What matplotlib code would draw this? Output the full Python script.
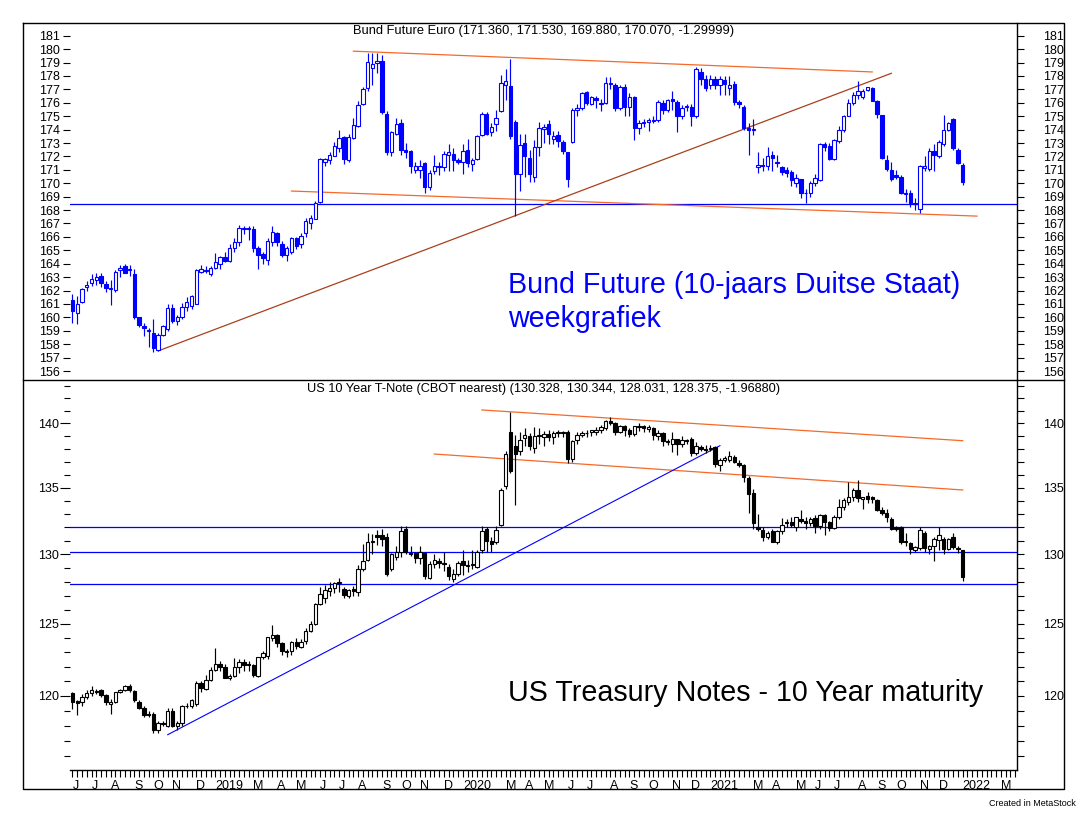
"""Weekly candlestick charts: Bund future and US 10y T-Note (MetaStock style)."""

import numpy as np
import pandas as pd
from matplotlib import pyplot as plt
from matplotlib.ticker import FixedLocator, NullFormatter, FixedFormatter

plt.rcParams["font.family"] = ["Liberation Sans", "DejaVu Sans"]

# weekly bars, first bar = week ending 8 June 2018, last bar = 7 Jan 2022
first_week = "2018-06-08"
n_slots = 199  # bar slots incl. empty weeks up to March 2022

bund_open = [
    161.3, 160.3, 161.15, 162.3, 162.6, 162.8, 163.05, 162.5, 162.1, 162.05,
    163.5, 163.8, 163.6, 163.2, 160.0, 159.35, 159.05, 158.8, 157.6, 158.7,
    159.1, 160.7, 159.7, 160.0, 160.8, 160.85, 161.0, 163.4, 163.5, 163.2,
    163.7, 164.0, 164.5, 164.2, 165.2, 165.6, 166.6, 166.7, 166.6, 165.2,
    164.7, 164.3, 165.6, 166.3, 165.45, 164.65, 164.9, 165.9, 165.5, 166.3,
    167.0, 167.35, 168.6, 171.6, 171.7, 172.05, 172.6, 173.45, 171.75, 173.4,
    174.3, 175.9, 177.1, 178.6, 179.0, 179.15, 175.2, 172.3, 173.7, 174.5,
    172.5, 172.4, 171.0, 171.0, 171.5, 169.75, 170.95, 171.3, 171.2, 172.1,
    172.2, 171.7, 171.6, 172.5, 171.45, 171.8, 173.6, 175.15, 173.8, 174.4,
    175.4, 177.3, 177.25, 174.6, 170.7, 173.0, 171.9, 170.5, 172.7, 174.05,
    174.4, 173.3, 173.6, 173.05, 172.35, 173.1, 175.5, 175.6, 176.8, 175.9,
    176.35, 176.0, 176.0, 177.4, 177.3, 175.6, 177.2, 175.65, 176.4, 174.1,
    174.5, 174.55, 174.65, 174.7, 176.0, 175.5, 176.25, 176.05, 175.0, 175.65,
    175.7, 175.0, 178.3, 177.8, 177.35, 177.75, 177.35, 177.7, 177.1, 177.4,
    176.05, 175.7, 174.1, 174.0, 171.2, 171.35, 171.3, 172.1, 171.6, 171.2,
    171.0, 170.85, 170.0, 170.3, 169.25, 169.25, 170.0, 170.25, 172.9, 172.75,
    171.8, 173.15, 173.95, 175.05, 175.95, 176.6, 176.45, 176.95, 177.1, 176.15,
    175.1, 171.75, 171.0, 170.6, 170.5, 169.2, 169.3, 168.5, 168.1, 171.15,
    171.1, 172.4, 172.0, 172.9, 174.0, 174.8, 172.5, 171.36,
]
bund_high = [
    161.75, 161.6, 162.2, 162.7, 163.2, 163.3, 163.3, 162.7, 162.8, 163.5,
    163.9, 163.95, 163.9, 163.6, 160.05, 159.6, 159.2, 159.9, 158.8, 159.45,
    161.0, 161.0, 160.2, 161.05, 161.5, 161.7, 163.6, 163.9, 163.8, 163.8,
    164.8, 164.6, 164.9, 165.5, 165.9, 166.9, 166.85, 166.85, 166.8, 165.3,
    164.9, 165.9, 166.8, 166.4, 165.7, 165.35, 166.0, 166.0, 166.3, 167.4,
    167.6, 168.65, 171.9, 171.9, 172.3, 173.1, 174.0, 173.5, 173.7, 174.9,
    176.1, 177.2, 179.7, 179.7, 179.7, 179.6, 175.4, 173.9, 174.9, 174.8,
    173.0, 172.5, 171.6, 171.7, 171.6, 171.0, 172.1, 171.6, 172.4, 172.9,
    172.6, 171.9, 172.9, 173.3, 171.9, 173.6, 175.3, 175.3, 174.5, 175.5,
    178.1, 178.5, 179.3, 174.7, 173.7, 173.7, 172.5, 173.2, 174.6, 174.4,
    174.7, 173.9, 173.9, 173.2, 172.35, 175.6, 175.9, 176.8, 176.9, 176.5,
    176.5, 176.3, 177.9, 177.9, 177.5, 177.3, 177.4, 176.7, 176.5, 174.7,
    174.8, 174.9, 175.0, 176.2, 176.2, 176.3, 176.9, 176.2, 175.8, 175.9,
    175.9, 178.7, 178.6, 178.1, 178.1, 178.0, 178.0, 178.0, 178.0, 177.6,
    176.2, 175.8, 174.5, 174.8, 172.3, 171.9, 172.7, 172.4, 172.1, 171.3,
    171.2, 171.0, 170.7, 170.3, 169.6, 170.2, 170.7, 173.0, 173.1, 173.0,
    173.3, 174.3, 175.1, 176.3, 176.8, 177.6, 177.0, 177.2, 177.2, 176.2,
    175.1, 172.1, 171.6, 171.0, 170.6, 169.6, 169.5, 168.9, 171.35, 172.0,
    172.6, 172.9, 173.2, 175.1, 174.6, 174.9, 172.6, 171.53,
]
bund_low = [
    159.6, 159.5, 161.1, 162.0, 162.35, 162.4, 162.3, 161.9, 160.9, 161.9,
    163.0, 163.3, 163.1, 159.9, 159.3, 158.6, 157.8, 157.4, 157.5, 158.6,
    159.0, 159.6, 159.4, 159.9, 160.5, 160.6, 161.0, 163.3, 163.3, 163.1,
    163.6, 163.6, 164.1, 164.1, 164.9, 165.3, 166.2, 165.8, 164.9, 163.6,
    164.0, 163.9, 165.3, 165.3, 164.5, 164.2, 164.7, 165.1, 165.2, 166.0,
    166.6, 167.3, 168.5, 171.3, 171.4, 172.0, 172.3, 171.4, 171.6, 173.3,
    174.2, 175.8, 176.9, 177.3, 178.2, 175.2, 172.1, 172.0, 173.6, 172.1,
    171.9, 170.8, 170.8, 170.4, 169.3, 169.5, 170.7, 170.6, 170.9, 170.9,
    170.9, 171.4, 170.7, 171.2, 170.9, 171.7, 173.5, 173.6, 173.5, 173.9,
    175.3, 176.2, 173.3, 167.55, 169.4, 170.5, 170.1, 170.1, 172.0, 173.0,
    172.9, 172.9, 172.7, 172.2, 169.75, 173.0, 175.0, 175.5, 175.8, 175.8,
    175.6, 175.4, 175.9, 177.0, 175.4, 175.5, 175.0, 175.0, 173.2, 173.7,
    174.2, 173.9, 174.5, 174.6, 175.2, 175.3, 175.5, 173.8, 174.8, 175.4,
    174.3, 174.9, 177.3, 176.9, 177.0, 177.0, 176.6, 176.6, 176.6, 175.8,
    175.6, 174.0, 172.1, 173.6, 170.8, 170.9, 171.0, 170.9, 171.2, 170.6,
    170.5, 169.8, 169.7, 168.9, 168.5, 169.0, 169.8, 170.2, 172.4, 171.7,
    171.7, 173.0, 173.8, 175.0, 175.8, 176.3, 176.3, 176.9, 176.1, 174.9,
    171.8, 170.9, 170.2, 170.3, 169.2, 168.6, 168.2, 168.0, 167.8, 170.9,
    170.9, 170.9, 171.9, 172.8, 173.9, 172.5, 171.4, 169.88,
]
bund_close = [
    160.45, 161.0, 162.1, 162.45, 162.85, 163.0, 162.6, 162.2, 162.2, 163.35,
    163.65, 163.3, 163.5, 160.05, 159.4, 159.2, 159.0, 157.7, 158.7, 159.35,
    160.7, 159.7, 160.05, 160.8, 161.15, 161.6, 163.5, 163.6, 163.45, 163.65,
    164.1, 164.5, 164.2, 165.2, 165.6, 166.7, 166.7, 166.6, 165.15, 164.65,
    164.4, 165.7, 166.35, 165.6, 164.65, 165.15, 165.9, 165.3, 166.1, 167.2,
    167.4, 168.55, 171.8, 171.8, 172.1, 172.8, 173.35, 171.8, 173.45, 174.35,
    175.85, 177.0, 179.05, 178.9, 179.15, 175.35, 172.3, 173.8, 174.4, 172.5,
    172.3, 171.3, 171.25, 171.3, 169.75, 170.8, 171.3, 171.2, 172.2, 172.3,
    171.7, 171.6, 172.4, 171.5, 171.7, 173.5, 175.2, 173.7, 174.2, 174.9,
    177.45, 177.6, 173.5, 170.7, 172.85, 172.0, 170.7, 172.7, 174.1, 174.2,
    173.7, 173.5, 173.15, 172.4, 170.35, 175.5, 175.6, 176.75, 176.0, 176.4,
    176.2, 175.9, 177.45, 177.5, 175.6, 177.2, 175.65, 176.45, 174.1, 174.5,
    174.6, 174.7, 174.75, 176.05, 175.5, 176.2, 176.1, 175.0, 175.6, 175.75,
    175.05, 178.55, 177.8, 177.1, 177.8, 177.35, 177.75, 177.4, 177.3, 176.05,
    175.9, 174.1, 174.0, 174.05, 171.35, 171.25, 172.0, 171.85, 171.5, 170.85,
    170.8, 170.25, 170.4, 169.3, 169.3, 170.0, 170.4, 172.9, 172.7, 171.8,
    173.25, 173.95, 175.0, 175.95, 176.6, 176.85, 176.85, 177.15, 176.15, 175.15,
    171.85, 171.1, 170.3, 170.5, 169.3, 169.3, 168.55, 168.45, 171.25, 171.25,
    172.4, 172.1, 173.05, 174.0, 174.5, 172.65, 171.5, 170.07,
]

tnote_open = [
    120.2, 119.65, 119.6, 119.9, 120.2, 120.3, 120.4, 120.05, 119.45, 119.6,
    120.3, 120.4, 120.7, 120.35, 119.6, 119.2, 118.75, 118.75, 117.7, 118.2,
    118.0, 119.0, 118.0, 118.15, 119.3, 119.35, 119.45, 120.85, 120.5, 121.1,
    121.8, 122.2, 122.0, 121.2, 121.35, 122.0, 122.35, 122.2, 122.1, 121.35,
    122.65, 122.75, 124.0, 124.2, 123.65, 123.1, 123.1, 123.7, 123.4, 123.8,
    124.5, 125.0, 126.4, 126.8, 127.35, 127.55, 127.9, 127.5, 127.0, 127.5,
    127.3, 128.95, 129.6, 130.9, 131.4, 131.4, 131.3, 128.9, 129.8, 130.2,
    131.9, 130.1, 130.1, 129.7, 130.1, 128.3, 129.3, 129.5, 129.4, 129.1,
    128.2, 128.6, 129.55, 129.15, 129.2, 129.1, 130.3, 131.9, 131.0, 130.9,
    132.2, 135.1, 139.3, 138.2, 137.85, 138.85, 139.0, 138.05, 139.0, 138.9,
    139.15, 138.95, 139.2, 139.25, 139.35, 137.2, 138.7, 139.1, 139.25, 139.3,
    139.35, 139.5, 139.6, 140.2, 140.0, 139.3, 139.75, 139.45, 139.15, 139.7,
    139.75, 139.55, 139.6, 139.0, 139.2, 138.6, 138.4, 138.75, 138.35, 138.7,
    138.8, 137.7, 138.1, 137.95, 137.95, 138.1, 136.75, 137.1, 137.15, 137.35,
    136.9, 136.75, 135.7, 134.6, 132.05, 131.8, 131.25, 131.7, 130.9, 131.7,
    132.3, 132.4, 132.0, 132.6, 132.5, 132.3, 132.7, 132.1, 132.9, 132.4,
    131.95, 132.75, 133.5, 133.9, 134.3, 134.8, 134.1, 134.35, 134.3, 134.05,
    133.3, 133.1, 132.6, 132.0, 132.0, 131.0, 130.85, 130.3, 130.5, 131.6,
    130.4, 130.6, 131.05, 131.15, 130.4, 131.3, 130.5, 130.328,
]
tnote_high = [
    120.25, 119.7, 120.1, 120.4, 120.7, 120.5, 120.5, 120.1, 119.8, 120.3,
    120.5, 120.75, 120.8, 120.4, 119.7, 119.3, 119.0, 118.9, 118.3, 118.3,
    119.2, 119.2, 118.3, 119.4, 119.5, 119.8, 121.0, 121.0, 121.4, 122.0,
    123.3, 122.4, 122.2, 121.5, 122.6, 122.5, 122.5, 122.4, 122.2, 122.7,
    123.1, 124.1, 124.9, 124.3, 123.7, 123.2, 123.8, 124.0, 123.9, 124.7,
    125.2, 126.5, 127.6, 127.8, 128.0, 128.0, 128.3, 127.6, 127.5, 127.7,
    129.2, 130.8, 131.6, 131.5, 131.8, 131.9, 131.6, 130.1, 130.6, 132.1,
    132.1, 130.6, 130.2, 130.6, 130.2, 129.5, 130.0, 129.7, 130.2, 129.3,
    128.9, 129.5, 130.3, 129.6, 130.3, 130.3, 132.1, 132.05, 131.3, 132.1,
    135.0, 137.8, 140.9, 139.1, 139.3, 139.6, 139.2, 139.7, 139.6, 139.4,
    139.5, 139.4, 139.5, 139.4, 139.5, 138.7, 139.3, 139.4, 139.5, 139.5,
    139.7, 139.9, 140.3, 140.5, 140.1, 139.9, 139.9, 139.6, 139.8, 140.0,
    139.9, 139.9, 139.7, 139.5, 139.3, 138.8, 139.3, 138.8, 139.0, 138.8,
    138.9, 138.5, 138.3, 138.3, 138.3, 138.2, 137.3, 137.4, 137.8, 137.5,
    137.1, 136.8, 135.9, 134.9, 133.0, 132.0, 131.7, 131.9, 131.8, 132.7,
    132.6, 132.8, 132.8, 133.3, 132.8, 132.8, 132.9, 133.0, 133.0, 132.5,
    132.9, 134.1, 134.2, 135.4, 135.0, 135.6, 134.3, 134.7, 134.4, 134.1,
    133.5, 133.4, 132.8, 132.1, 132.1, 131.6, 130.9, 130.6, 132.0, 131.7,
    130.7, 131.3, 132.0, 131.3, 131.2, 131.6, 130.6, 130.344,
]
tnote_low = [
    119.1, 118.7, 119.3, 119.8, 120.0, 120.1, 119.95, 119.4, 118.8, 119.5,
    120.2, 120.35, 120.3, 119.6, 119.1, 118.6, 118.6, 117.5, 117.5, 118.0,
    117.9, 117.9, 117.7, 118.0, 119.2, 119.2, 119.3, 120.3, 120.4, 121.0,
    121.7, 121.7, 121.2, 121.1, 121.3, 121.6, 121.7, 121.7, 121.3, 121.3,
    122.5, 122.5, 123.8, 123.4, 122.8, 122.7, 122.8, 123.2, 123.3, 123.6,
    124.4, 124.9, 126.3, 126.5, 127.0, 127.2, 127.3, 126.8, 126.8, 127.0,
    127.0, 128.8, 129.5, 130.0, 130.7, 130.6, 128.4, 128.8, 129.6, 129.8,
    130.0, 129.9, 129.4, 129.3, 128.2, 128.2, 129.0, 129.0, 128.8, 128.1,
    127.95, 128.4, 128.5, 128.7, 128.9, 129.0, 130.1, 130.2, 130.2, 130.8,
    132.1, 134.9, 136.1, 133.7, 137.5, 138.2, 137.9, 137.7, 138.4, 138.2,
    138.6, 138.4, 138.9, 138.9, 136.9, 137.0, 138.4, 138.9, 138.9, 139.0,
    139.1, 139.2, 139.5, 139.9, 139.1, 139.2, 139.0, 138.9, 139.0, 139.4,
    139.3, 139.3, 138.7, 138.7, 138.2, 138.3, 137.75, 137.5, 138.1, 138.4,
    137.4, 137.5, 137.8, 137.7, 137.8, 136.6, 136.3, 137.0, 137.0, 136.9,
    136.6, 135.4, 133.1, 131.9, 131.7, 131.0, 131.1, 130.9, 130.8, 131.5,
    132.0, 132.0, 131.7, 132.3, 131.9, 132.1, 131.6, 131.9, 131.4, 131.7,
    131.9, 132.6, 133.3, 133.7, 134.0, 133.9, 133.4, 133.8, 133.8, 133.2,
    132.9, 132.4, 131.8, 131.7, 130.8, 130.6, 130.0, 130.2, 130.3, 130.2,
    130.0, 129.5, 130.3, 130.0, 130.3, 130.4, 130.1, 128.031,
]
tnote_close = [
    119.6, 119.55, 119.9, 120.2, 120.4, 120.35, 120.05, 119.6, 119.6, 120.25,
    120.4, 120.7, 120.4, 119.75, 119.2, 118.7, 118.7, 117.7, 118.2, 118.1,
    119.0, 118.0, 118.2, 119.3, 119.35, 119.75, 120.85, 120.55, 121.1, 121.8,
    122.2, 122.0, 121.25, 121.35, 122.0, 122.35, 122.15, 122.1, 121.45, 122.65,
    122.95, 124.05, 124.2, 123.65, 123.1, 123.05, 123.7, 123.45, 123.75, 124.5,
    125.0, 126.4, 127.15, 127.4, 127.55, 127.9, 127.95, 127.05, 127.4, 127.35,
    128.95, 129.55, 130.9, 131.0, 131.3, 131.1, 128.55, 130.0, 130.2, 131.7,
    130.2, 130.05, 129.75, 130.2, 128.4, 129.3, 129.6, 129.4, 129.3, 128.4,
    128.6, 129.4, 129.2, 129.2, 129.3, 130.2, 131.7, 131.0, 130.8, 131.8,
    134.8, 137.6, 136.3, 137.6, 138.7, 139.05, 138.2, 139.0, 139.05, 139.15,
    138.95, 139.2, 139.3, 139.3, 137.2, 138.6, 139.1, 139.25, 139.2, 139.45,
    139.5, 139.7, 140.2, 140.05, 139.3, 139.8, 139.45, 139.15, 139.75, 139.75,
    139.6, 139.7, 139.05, 139.25, 138.6, 138.55, 138.75, 138.4, 138.7, 138.6,
    137.7, 138.2, 137.95, 137.9, 138.05, 136.8, 137.15, 137.25, 137.45, 137.0,
    136.75, 135.8, 134.55, 132.3, 131.9, 131.3, 131.55, 130.95, 131.75, 132.2,
    132.4, 132.2, 132.75, 132.45, 132.35, 132.65, 132.1, 132.9, 132.4, 131.95,
    132.8, 133.5, 134.05, 134.3, 134.8, 134.2, 134.25, 134.1, 134.1, 133.3,
    133.1, 132.8, 131.9, 131.85, 130.9, 130.9, 130.4, 130.55, 131.8, 130.45,
    130.6, 131.15, 131.4, 130.4, 131.15, 130.55, 130.4, 128.375,
]

# trend lines: (week index pair, price pair)
bund_channel_top = ([59, 168], [179.85, 178.3])
bund_channel_bottom = ([46, 190], [169.42, 167.55])
bund_uptrend = ([18, 172], [157.5, 178.2])
bund_support = 168.45

tnote_channel_top = ([86, 187], [141.06, 138.63])
tnote_channel_bottom = ([76, 187], [137.59, 134.82])
tnote_uptrend = ([20, 136], [117.4, 138.24])
tnote_levels = [132.05, 130.2, 127.85]

bund_title = "Bund Future Euro (171.360, 171.530, 169.880, 170.070, -1.29999)"
tnote_title = "US 10 Year T-Note (CBOT nearest) (130.328, 130.344, 128.031, 128.375, -1.96880)"

ORANGE = "#F5692A"
RUST = "#A8401C"
BLUE = "#0000FF"


def draw_candles(ax, o, h, l, c, color):
    o, h, l, c = map(np.asarray, (o, h, l, c))
    x = np.arange(len(o))
    up = c >= o
    ax.vlines(x, l, h, color=color, lw=0.85, zorder=3)
    bottom = np.minimum(o, c)
    height = np.abs(c - o)
    ax.bar(x[up], height[up], bottom=bottom[up], width=0.72,
           facecolor="white", edgecolor=color, lw=0.8, zorder=4)
    ax.bar(x[~up], height[~up], bottom=bottom[~up], width=0.72,
           facecolor=color, edgecolor=color, lw=0.8, zorder=4)


W, H = 1086, 814
fig = plt.figure(figsize=(W / 100, H / 100), dpi=100)


def px_rect(x0, y0, x1, y1):
    return [x0 / W, 1 - y1 / H, (x1 - x0) / W, (y1 - y0) / H]


# outer frame and panel divider
frame = fig.add_axes([0, 0, 1, 1], zorder=-1)
frame.set_xlim(0, W)
frame.set_ylim(H, 0)
frame.axis("off")
frame.plot([23, 1064, 1064, 23, 23], [23, 23, 789, 789, 23], color="black", lw=1.0)
frame.plot([23, 1064], [380, 380], color="black", lw=1.0)
frame.text(1076, 803, "Created in MetaStock", ha="right", va="center", fontsize=6.5)

ax_top = fig.add_axes(px_rect(70, 23, 1017, 380))
ax_bot = fig.add_axes(px_rect(70, 380, 1017, 770))
xlim = (-0.525, 198.4)

# ---- Bund panel
draw_candles(ax_top, bund_open, bund_high, bund_low, bund_close, BLUE)
ax_top.axhline(bund_support, color=BLUE, lw=0.9, zorder=2)
ax_top.plot(*bund_channel_top, color=ORANGE, lw=0.9, zorder=2)
ax_top.plot(*bund_channel_bottom, color=ORANGE, lw=0.9, zorder=2)
ax_top.plot(*bund_uptrend, color=RUST, lw=0.9, zorder=2)
ax_top.set_xlim(*xlim)
ax_top.set_ylim(155.33, 181.95)
ax_top.text(0.5, 0.978, bund_title, transform=ax_top.transAxes,
            ha="center", va="center", fontsize=9.3)
ax_top.text(0.4625, 0.266, "Bund Future (10-jaars Duitse Staat)", transform=ax_top.transAxes,
            ha="left", va="center", fontsize=20.6, color=BLUE)
ax_top.text(0.4625, 0.172, "weekgrafiek", transform=ax_top.transAxes,
            ha="left", va="center", fontsize=20.6, color=BLUE)

# ---- T-Note panel (semi-log)
ax_bot.set_yscale("log")
draw_candles(ax_bot, tnote_open, tnote_high, tnote_low, tnote_close, "black")
for lvl in tnote_levels:
    ax_bot.axhline(lvl, color=BLUE, lw=0.9, zorder=2)
ax_bot.plot(*tnote_channel_top, color=ORANGE, lw=0.9, zorder=2)
ax_bot.plot(*tnote_channel_bottom, color=ORANGE, lw=0.9, zorder=2)
ax_bot.plot(*tnote_uptrend, color=BLUE, lw=0.8, zorder=2)
ax_bot.set_xlim(*xlim)
ax_bot.set_ylim(115.08, 143.47)
ax_bot.text(0.5, 0.977, tnote_title, transform=ax_bot.transAxes,
            ha="center", va="center", fontsize=9.2)
ax_bot.text(0.4625, 0.197, "US Treasury Notes - 10 Year maturity", transform=ax_bot.transAxes,
            ha="left", va="center", fontsize=20.6, color="black")

# y axes: left labels on the axes, right labels on twins (wider pad)
top_ticks = list(range(156, 182))
bot_major = [120, 125, 130, 135, 140]
bot_minor = list(range(116, 144))

for ax in (ax_top, ax_bot):
    ax.set_facecolor("none")
    for side in ("left", "top", "right"):
        ax.spines[side].set_visible(False)
ax_top.spines["bottom"].set_visible(False)
ax_bot.spines["bottom"].set_linewidth(1.0)

ax_top.set_yticks(top_ticks)
ax_top.set_xticks([])
ax_top.tick_params(axis="y", which="both", left=True, right=False, direction="out",
                   length=5, width=0.8, labelsize=9, pad=2)

ax_bot.yaxis.set_major_locator(FixedLocator(bot_major))
ax_bot.yaxis.set_major_formatter(FixedFormatter([str(v) for v in bot_major]))
ax_bot.yaxis.set_minor_locator(FixedLocator(bot_minor))
ax_bot.yaxis.set_minor_formatter(NullFormatter())
ax_bot.tick_params(axis="y", which="major", left=True, right=False, direction="out",
                   length=7, width=0.8, labelsize=9, pad=1)
ax_bot.tick_params(axis="y", which="minor", left=True, right=False, direction="out",
                   length=4, width=0.8)

top_r = ax_top.twinx()
top_r.set_ylim(ax_top.get_ylim())
top_r.set_yticks(top_ticks)
bot_r = ax_bot.twinx()
bot_r.set_yscale("log")
bot_r.set_ylim(ax_bot.get_ylim())
bot_r.yaxis.set_major_locator(FixedLocator(bot_major))
bot_r.yaxis.set_major_formatter(FixedFormatter([str(v) for v in bot_major]))
bot_r.yaxis.set_minor_locator(FixedLocator(bot_minor))
bot_r.yaxis.set_minor_formatter(NullFormatter())
for ax in (top_r, bot_r):
    for side in ("left", "top", "bottom"):
        ax.spines[side].set_visible(False)
    ax.spines["right"].set_linewidth(1.0)
    ax.tick_params(axis="y", which="both", direction="out", length=5, width=0.8,
                   labelsize=9, pad=14)
top_r.set_xticks([])

# x axis: weekly ticks, month initials at first bar of each month
week_dates = pd.date_range(first_week, periods=n_slots, freq="7D")
month_key = np.asarray(week_dates.year * 12 + week_dates.month)
is_first = np.r_[True, month_key[1:] != month_key[:-1]]
label_pos, label_txt = [], []
for i in np.flatnonzero(is_first):
    d = week_dates[i]
    if d.month == 2:
        continue
    label_pos.append(i)
    label_txt.append(str(d.year) if d.month == 1 else "JFMAMJJASOND"[d.month - 1])

ax_bot.set_xticks(np.arange(n_slots), minor=True)
ax_bot.set_xticks(label_pos, labels=label_txt)
ax_bot.tick_params(axis="x", which="both", direction="out", length=5, width=0.8,
                   labelsize=9, pad=2)
for lab in ax_bot.get_xticklabels():
    lab.set_horizontalalignment("left")

fig.savefig("out.png", dpi=100)
